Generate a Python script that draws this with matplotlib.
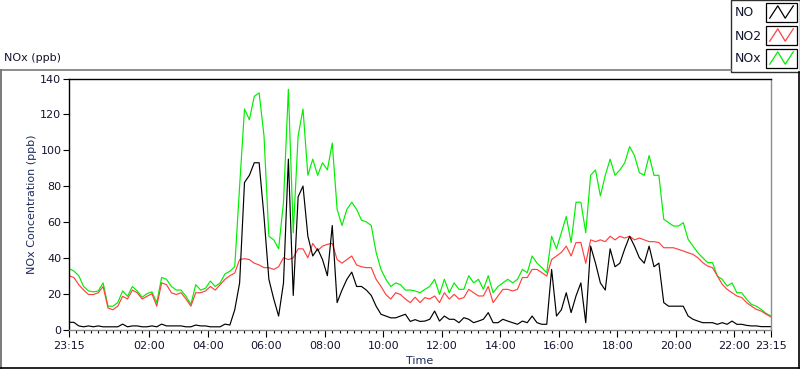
import matplotlib
matplotlib.use("Agg")
import matplotlib.pyplot as plt
from matplotlib.lines import Line2D
from matplotlib.patches import Rectangle
import numpy as np

# readings every 10 minutes, starting 23:15 (hours after start)
hours = np.arange(0, 24 * 60 + 1, 10) / 60.0

no_ppb = [
    4, 4, 2, 1.5, 2, 1.5, 2, 1.5, 1.5, 1.5, 1.5, 3, 1.5, 2, 2, 1.5, 1.5, 2, 1.5, 3,
    2, 2, 2, 2, 1.5, 1.5, 2.5, 2, 2, 1.5, 1.5, 1.5, 3, 2.5, 11, 26, 82,
    86, 93, 93, 63, 28, 17, 7.5, 26, 95, 19, 74, 80, 52, 41, 45, 39, 30, 58, 15, 22,
    28, 32, 24, 24, 22, 19, 13, 8.5, 7.5, 6.5, 6.5, 7.5, 8.5, 4.5, 5.5, 4.5,
    4.7, 5.7, 10.3, 4.7, 7.5, 5.7, 5.7, 3.8, 6.6, 5.7, 3.8, 4.7, 5.7, 9.4, 3.8, 3.8,
    5.7, 4.7, 3.8, 2.9, 4.7, 3.8, 7.5, 3.8, 2.9, 2.9, 33.5, 7.5, 11, 20.5, 9.4, 18.7,
    26, 3.8, 46.5,
    37, 26, 22, 45, 35, 37, 45, 52, 46.5, 40, 37, 46.5, 35, 37, 15, 13, 13, 13, 13,
    7.5, 5.7, 4.7, 3.8, 3.8, 3.8, 2.9, 3.8, 2.9, 4.7, 2.9, 2.9, 2.3, 2, 2, 1.6, 1.6, 1.6,
]

no2_ppb = [
    30, 29, 25, 22, 19.5, 19.5, 20.5, 24, 12, 11, 13, 18.5, 17, 22, 20.5, 17, 18.5, 20,
    13, 26, 25, 20.5, 19.5, 20.5, 17, 13, 20.5, 20.5, 21.5, 24, 22, 25, 28, 30, 31.5,
    39, 39.5,
    39, 37, 36, 34.5, 34.5, 33.5, 35, 40, 39, 40, 45, 45, 40, 48, 44, 46.5, 47.5, 48,
    39, 37, 39, 41, 36, 35, 34.5, 34.5, 28, 24, 19.5, 17, 20.5, 19.5, 17, 15, 18, 15,
    17.8, 17, 18.7, 15, 20.5, 17, 19.6, 17, 17.8, 22.4, 20.5, 18.7, 18.7, 24, 15, 18.7,
    22.4, 22.4, 21.5, 22.4, 29, 29, 33.5, 33.5, 31.7, 29.8, 39, 41, 43, 46.5, 41, 48.5,
    48.5, 37, 50,
    49, 50, 49, 52, 50, 52, 51, 52, 50, 51, 50, 49, 49, 48.5, 45.6, 45.6, 45.6, 44.7,
    43.8, 42.8, 41.9, 40, 37.3, 35.4, 34.5, 29.8, 25.2, 22.4, 20.5, 18.7, 17.8, 15, 13,
    11.2, 10.3, 8.5, 7,
]

nox_ppb = [
    34, 32.6, 30, 24, 21.5, 21, 21.5, 26, 13, 13, 15, 21.5, 18.5, 24, 21.5, 18, 20, 21,
    15, 29, 28, 24, 22, 22, 18.5, 14, 25, 22, 23, 27, 24, 26, 31, 32.5, 35, 80, 123,
    117, 130, 132, 108, 52, 50, 45, 71, 134, 54, 108, 123, 86, 95, 86, 93, 89, 104, 67,
    58, 67, 71, 67, 61, 60, 58, 43, 33.5, 28, 24, 26, 25, 22, 22, 21.5, 20.5,
    22.4, 24, 28, 19.6, 28, 20.5, 26, 22.4, 22.4, 30, 26, 28, 22.4, 30, 20.5, 24, 26,
    28, 26, 28, 33.5, 31.7, 41, 37, 34.5, 31.7, 52, 45, 54, 63, 48.5, 71, 71, 54, 86,
    89, 74.5, 86, 95, 86, 89, 93, 102, 97, 87.5, 86, 97, 86, 86, 61.5, 59.6, 57.7, 57.7,
    59.6, 50.3, 46.5, 42.8, 40, 37.3, 37.3, 29.8, 28, 24.2, 26, 20.5, 20.5, 16.8, 14,
    13, 11.2, 9, 7.5,
]

tick_hours = [0, 2.75, 4.75, 6.75, 8.75, 10.75, 12.75, 14.75, 16.75, 18.75, 20.75, 22.75, 24]
tick_labels = ["23:15", "02:00", "04:00", "06:00", "08:00", "10:00", "12:00",
               "14:00", "16:00", "18:00", "20:00", "22:00", "23:15"]
series_names = ["NO", "NO2", "NOx"]
series_colors = ["#000000", "#ff4040", "#00ee00"]

W, H = 800, 369
fig = plt.figure(figsize=(W / 100, H / 100), dpi=100)
fig.patch.set_facecolor("white")
txt_color = "#141430"
fs = 8.0


def fx(px):
    return px / W


def fy(py):
    return 1 - py / H


ax = fig.add_axes([fx(69), fy(329.5), fx(771) - fx(69), fy(78.5) - fy(329.5)])
ax.plot(hours, nox_ppb, color=series_colors[2], lw=0.85)
ax.plot(hours, no2_ppb, color=series_colors[1], lw=0.85)
ax.plot(hours, no_ppb, color=series_colors[0], lw=0.85)

ax.set_xlim(0, 24)
ax.set_ylim(0, 140)
ax.set_yticks(np.arange(0, 141, 20))
ax.set_xticks(tick_hours)
ax.set_xticklabels(tick_labels)
ax.set_xticks(np.arange(0, 24.01, 0.25), minor=True)
ax.tick_params(axis="y", length=4, width=0.8, pad=1.5, labelsize=fs, labelcolor=txt_color)
ax.tick_params(axis="x", which="major", length=5, width=0.8, pad=3, labelsize=fs,
               labelcolor=txt_color)
ax.tick_params(axis="x", which="minor", length=2.5, width=0.8)
for side in ["left", "top"]:
    ax.spines[side].set_color("black")
for side in ["right", "bottom"]:
    ax.spines[side].set_color("#8c8c8c")
for s in ax.spines.values():
    s.set_linewidth(1.0)

fig.text(fx(32), fy(204), "NOx Concentration (ppb)", rotation=90, ha="center",
         va="center", fontsize=fs, color="#1e2c5a")
fig.text(fx(420), fy(361), "Time", ha="center", va="center", fontsize=fs, color="#1e2c5a")
fig.text(fx(4), fy(58), "NOx (ppb)", ha="left", va="center", fontsize=fs, color=txt_color)

# panel frame
fig.add_artist(Line2D([fx(0.5), fx(731)], [fy(70), fy(70)], color="#7a7a7a", lw=1.2))
fig.add_artist(Line2D([fx(0.7), fx(0.7)], [fy(70), fy(368)], color="#7a7a7a", lw=1.4))
fig.add_artist(Line2D([fx(0), fx(799)], [fy(367.8), fy(367.8)], color="black", lw=1.2))
fig.add_artist(Line2D([fx(799.2), fx(799.2)], [fy(72), fy(368)], color="black", lw=1.2))

# legend box
fig.add_artist(Rectangle((fx(731), fy(72)), fx(799.5) - fx(731), fy(0) - fy(72),
                         facecolor="white", edgecolor="#303030", lw=1.0,
                         transform=fig.transFigure))
zig_x = np.array([0.12, 0.38, 0.62, 0.88])
zig_y = np.array([0.2, 0.85, 0.2, 0.85])
for i, (name, col) in enumerate(zip(series_names, series_colors)):
    top = 3 + i * 23
    fig.text(fx(735), fy(top + 10), name, ha="left", va="center", fontsize=fs + 1,
             color=txt_color)
    fig.add_artist(Rectangle((fx(766), fy(top + 19)), fx(797) - fx(766), fy(top) - fy(top + 19),
                             facecolor="white", edgecolor="black", lw=0.9,
                             transform=fig.transFigure))
    fig.add_artist(Line2D(fx(766 + zig_x * 31), fy(top + 19 - zig_y * 19), color=col, lw=0.9))

fig.savefig("out.png", dpi=100)
